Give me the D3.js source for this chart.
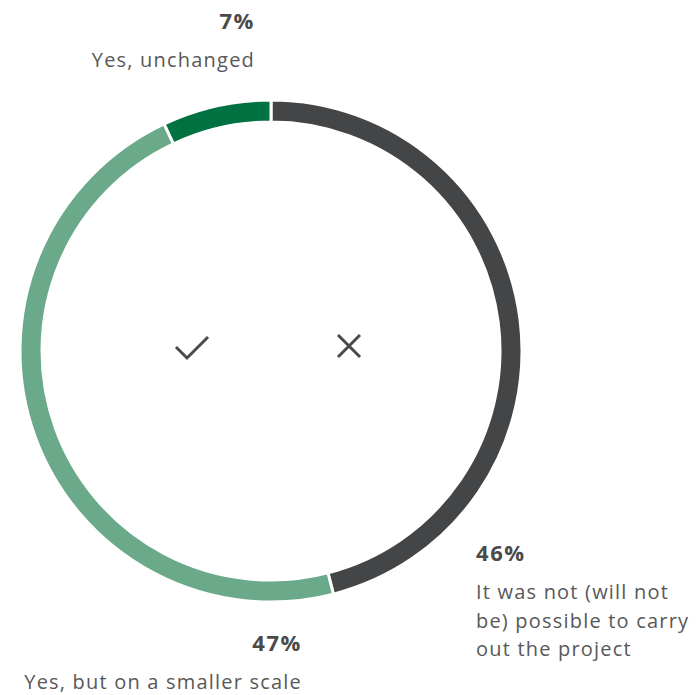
<!DOCTYPE html>
<html>
<head>
<meta charset="utf-8">
<script src="https://cdn.jsdelivr.net/npm/d3@7"></script>
<style>
  html, body { margin: 0; padding: 0; background: #fff; }
  svg { display: block; }
  .pct { font-family: "Open Sans", sans-serif; font-weight: 700; font-size: 22px; letter-spacing: 1.6px; fill: #4a4a4a; }
  .lbl { font-family: "Open Sans", sans-serif; font-weight: 400; font-size: 20px; letter-spacing: 1.2px; fill: #585858; }
</style>
</head>
<body>
<svg id="chart" width="697" height="695"></svg>
<script>
// Answers, in drawing order (clockwise from 12 o'clock)
const categories = [
  "It was not (will not be) possible to carry out the project",
  "Yes, but on a smaller scale",
  "Yes, unchanged"
];
const values = [46, 47, 7];
const colors = ["#444547", "#6aaa8a", "#007140"];
const labelLines = [
  ["It was not (will not", "be) possible to carry", "out the project"],
  ["Yes, but on a smaller scale"],
  ["Yes, unchanged"]
];

const svg = d3.select("#chart");
const cx = 271, cy = 351;
const outerR = 251, innerR = 229;

const g = svg.append("g").attr("transform", `translate(${cx},${cy})`);

const pie = d3.pie().sort(null).value(d => d)(values);
const arc = d3.arc().innerRadius(innerR).outerRadius(outerR);

g.selectAll("path.slice")
  .data(pie)
  .join("path")
  .attr("class", "slice")
  .attr("d", arc)
  .attr("fill", (d, i) => colors[i])
  .attr("stroke", "#fff")
  .attr("stroke-width", 3);

// Check mark and cross in the middle
g.append("path")
  .attr("d", "M-95,-4 L-84,7 L-63,-14")
  .attr("fill", "none")
  .attr("stroke", "#4a4a4a")
  .attr("stroke-width", 3);
g.append("path")
  .attr("d", "M67,-16 L89,6 M89,-16 L67,6")
  .attr("fill", "none")
  .attr("stroke", "#4a4a4a")
  .attr("stroke-width", 3);

// Label blocks: anchor point and alignment for each answer
const labelPos = [
  { x: 476, y: 561, anchor: "start" },
  { x: 302, y: 651, anchor: "end" },
  { x: 255, y: 29, anchor: "end" }
];
const lineH = 28.5;

values.forEach((v, i) => {
  const p = labelPos[i];
  svg.append("text")
    .attr("class", "pct")
    .attr("x", p.x).attr("y", p.y)
    .attr("text-anchor", p.anchor)
    .text(v + "%");
  labelLines[i].forEach((line, j) => {
    svg.append("text")
      .attr("class", "lbl")
      .attr("x", p.x).attr("y", p.y + 38 + j * lineH)
      .attr("text-anchor", p.anchor)
      .text(line);
  });
});
</script>
</body>
</html>
